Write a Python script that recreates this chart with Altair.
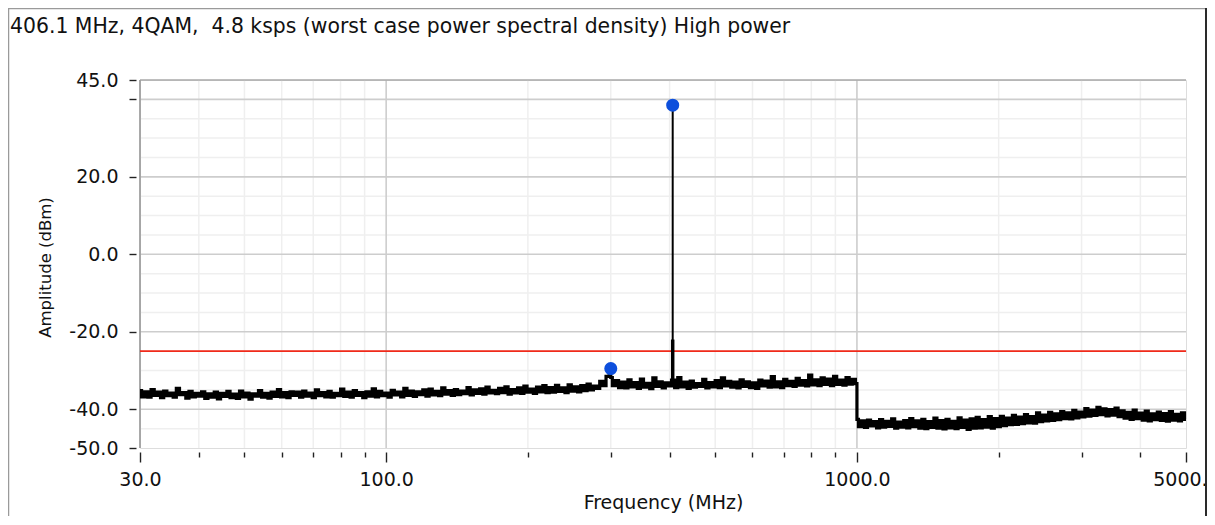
import altair as alt
import numpy as np
import pandas as pd

TITLE = "406.1 MHz, 4QAM,\u00a0 4.8 ksps (worst case power spectral density) High power"
X_TITLE = "Frequency (MHz)"
Y_TITLE = "Amplitude (dBm)"
FONT = "DejaVu Sans"

# ---- measured trace, three sweep segments (start MHz, stop MHz) ----
seg_a_range = [30.0, 300.0]
seg_a_amp = [
    -35.2, -36.8, -35.5, -36.9, -34.9, -36.4, -35.6, -37.0, -35.3, -36.5,
    -35.8, -36.9, -34.6, -36.2, -35.7, -37.1, -35.4, -36.8, -35.9, -36.6,
    -35.5, -37.2, -36.0, -36.9, -35.6, -37.3, -35.9, -36.7, -35.4, -37.0,
    -36.1, -37.2, -35.3, -36.8, -35.8, -37.4, -36.0, -36.6, -35.2, -36.9,
    -35.9, -37.1, -35.6, -36.7, -34.9, -36.8, -35.7, -37.0, -35.5, -36.4,
    -35.6, -36.9, -35.3, -36.6, -35.8, -37.0, -35.0, -36.5, -35.7, -36.8,
    -35.4, -36.9, -35.9, -36.5, -34.8, -36.7, -35.6, -36.9, -35.2, -36.4,
    -35.7, -37.0, -35.5, -36.6, -34.7, -36.8, -35.4, -36.5, -35.8, -36.9,
    -35.1, -36.3, -35.6, -36.8, -34.6, -36.4, -35.3, -36.7, -35.5, -36.2,
    -35.0, -36.6, -34.8, -36.3, -35.4, -36.5, -34.5, -36.1, -35.2, -36.4,
    -34.9, -36.2, -35.3, -36.0, -34.4, -36.3, -35.0, -35.9, -34.7, -36.1,
    -34.3, -35.8, -35.1, -36.0, -34.6, -35.7, -34.2, -36.1, -34.9, -35.8,
    -34.5, -35.9, -34.0, -35.6, -34.8, -35.9, -34.3, -35.5, -33.9, -35.7,
    -34.4, -35.6, -33.8, -35.4, -34.5, -35.7, -33.7, -35.3, -34.2, -35.5,
    -33.9, -35.2, -33.5, -35.0, -34.0, -34.6, -32.8, -33.9, -31.5, -30.6,
]
seg_b_range = [300.0, 1000.0]
seg_b_amp = [
    -31.8, -33.9, -32.6, -34.4, -33.0, -34.5, -32.4, -34.2, -33.1, -34.6,
    -32.2, -34.3, -33.3, -34.7, -31.9, -34.1, -32.9, -34.5, -33.2, -34.0,
    -32.5, -34.4, -31.8, -34.2, -33.0, -34.6, -32.7, -34.3, -33.4, -34.1,
    -32.3, -34.5, -33.1, -34.2, -32.6, -34.4, -31.9, -34.0, -32.8, -34.3,
    -33.0, -34.5, -32.4, -34.1, -32.9, -34.4, -33.2, -34.6, -32.5, -34.0,
    -32.7, -34.3, -31.6, -34.2, -32.9, -34.4, -32.3, -33.9, -32.8, -34.1,
    -32.0, -33.8, -32.6, -34.0, -31.2, -33.7, -32.4, -33.9, -31.9, -33.6,
    -32.2, -33.9, -31.5, -33.6, -32.5, -33.8, -31.8, -33.5, -32.3, -33.4,
]
seg_c_range = [1000.0, 5000.0]
seg_c_amp = [
    -42.6, -44.5, -43.0, -44.7, -42.8, -44.3, -43.2, -44.8, -42.7, -44.6,
    -43.1, -44.4, -42.5, -44.9, -43.3, -44.6, -42.9, -44.8, -42.4, -44.5,
    -43.0, -44.9, -42.6, -45.0, -43.2, -44.7, -42.3, -44.9, -42.9, -45.1,
    -42.6, -44.8, -43.1, -45.0, -42.2, -44.7, -42.8, -45.2, -42.5, -44.9,
    -42.1, -44.8, -42.7, -44.6, -41.9, -44.9, -42.4, -44.5, -41.8, -44.2,
    -42.3, -44.0, -41.6, -43.9, -42.0, -43.7, -41.4, -43.5, -41.9, -43.6,
    -40.9, -43.2, -41.5, -43.0, -40.8, -42.9, -41.2, -42.7, -40.6, -42.4,
    -40.9, -42.5, -40.3, -42.2, -40.7, -42.0, -39.8, -41.8, -40.2, -41.6,
    -39.5, -41.4, -39.9, -41.7, -40.1, -41.5, -39.7, -41.9, -40.4, -42.3,
    -40.8, -42.6, -40.2, -42.4, -41.0, -42.8, -40.5, -43.0, -41.2, -42.7,
    -40.7, -42.9, -41.1, -43.1, -40.6, -42.8, -41.3, -43.0, -40.9, -42.6,
]

# ---- carrier, markers and limit ----
carrier_freq = [406.1]
carrier_peak = [38.5]
carrier_skirt = [-22.0]
carrier_floor = [-34.0]
marker_freq = [300.0, 406.1]
marker_amp = [-29.5, 38.5]
limit_level = [-25.0]

# ---- axes and grid ----
x_major_ticks = [30, 100, 1000, 5000]
x_minor_ticks = [40, 50, 60, 70, 80, 90, 200, 300, 400, 500, 600, 700, 800, 900, 2000, 3000, 4000]
y_ticks = [45, 40, 20, 0, -20, -40, -50]
y_major_grid = [40, 20, 0, -20, -40]
y_minor_grid = [35, 30, 25, 15, 10, 5, -5, -10, -15, -25, -30, -35, -45]
x_major_grid = [100, 1000]
frame_top = [45]
frame_left = [30]

W, H = 1046, 368

rows = []
for (lo, hi), amps in [(seg_a_range, seg_a_amp), (seg_b_range, seg_b_amp), (seg_c_range, seg_c_amp)]:
    freqs = np.geomspace(lo, hi, len(amps))
    for f, a in zip(freqs, amps):
        rows.append({"freq": float(f), "amp": a})
trace = pd.DataFrame(rows)
trace["idx"] = range(len(trace))

xs = alt.Scale(type="log", domain=[30, 5000], nice=False)
ys = alt.Scale(domain=[-50, 45], nice=False, zero=False)

major_test = "indexof([30,100,1000,5000], datum.value) >= 0"
x_axis = alt.Axis(
    values=sorted(x_major_ticks + x_minor_ticks),
    labelExpr=f"{major_test} ? format(datum.value, '.1f') : ''",
    tickSize={"condition": {"test": major_test, "value": 10}, "value": 5},
    tickColor="#222", tickWidth=1.4, domain=False, grid=False, offset=4,
    labelPadding=8, labelFont=FONT, labelFontSize=19, labelColor="#111",
    labelBaseline="top", labelFlush=False, labelOverlap=False,
    title=X_TITLE, titleFont=FONT, titleFontSize=19, titleFontWeight="normal",
    titleColor="#111", titleX=W / 2, titleY=50, titleAlign="center", titleBaseline="middle",
)
y_axis = alt.Axis(
    values=y_ticks,
    labelExpr="datum.value == 40 ? '' : (datum.value < 0 ? '-' : '') + format(abs(datum.value), '.1f')",
    tickSize=7, tickColor="#222", tickWidth=1.4, domain=False, grid=False, offset=4,
    labelPadding=11, labelFont=FONT, labelFontSize=19, labelColor="#111",
    labelFlush=False, labelOverlap=False,
    title=Y_TITLE, titleFont=FONT, titleFontSize=16.5, titleFontWeight="normal",
    titleColor="#111", titleX=-91, titleY=187, titleAngle=-90,
    titleAlign="center", titleBaseline="middle",
)

X = alt.X("freq:Q", scale=xs, axis=x_axis)
Y = alt.Y("amp:Q", scale=ys, axis=y_axis)


def vrules(vals, color, width):
    return alt.Chart(pd.DataFrame({"freq": vals})).mark_rule(color=color, strokeWidth=width).encode(x=X)


def hrules(vals, color, width):
    return alt.Chart(pd.DataFrame({"amp": vals})).mark_rule(color=color, strokeWidth=width).encode(y=Y)


grid_layers = [
    vrules(x_minor_ticks, "#efefef", 1.5),
    hrules(y_minor_grid, "#efefef", 1.5),
    vrules(x_major_grid, "#cdcdcd", 1.6),
    hrules(y_major_grid, "#cdcdcd", 1.6),
    hrules(frame_top, "#a8a8a8", 1.6),
    vrules(frame_left, "#a0a0a0", 1.8),
]

limit = alt.Chart(pd.DataFrame({"amp": limit_level})).mark_rule(color="#f02a1a", strokeWidth=1.6).encode(y=Y)

line = alt.Chart(trace).mark_line(color="#000000", strokeWidth=3.2, interpolate="step").encode(
    x=X, y=Y, order=alt.Order("idx:Q")
)

carrier_df = pd.DataFrame({"freq": carrier_freq, "amp": carrier_floor, "peak": carrier_peak, "skirt": carrier_skirt})
carrier = alt.Chart(carrier_df).mark_rule(color="#000000", strokeWidth=2).encode(x=X, y=Y, y2="peak:Q")
skirt = alt.Chart(carrier_df).mark_rule(color="#000000", strokeWidth=3.5).encode(x=X, y=Y, y2="skirt:Q")

markers = alt.Chart(pd.DataFrame({"freq": marker_freq, "amp": marker_amp})).mark_circle(
    color="#0d4fdc", opacity=1, size=170
).encode(x=X, y=Y)

title = alt.Chart(pd.DataFrame({"label": [TITLE]})).mark_text(
    align="left", baseline="alphabetic", font=FONT, fontSize=20.4, color="#111"
).encode(x=alt.value(-130), y=alt.value(-47), text="label:N")

border = alt.Chart(pd.DataFrame({"k": [0]})).mark_rect(
    fill="transparent", stroke="#9a9a9a", strokeWidth=1.5
).encode(x=alt.value(-131.5), x2=alt.value(W + 20), y=alt.value(-71.5), y2=alt.value(H + 120))
right_edge = alt.Chart(pd.DataFrame({"k": [0]})).mark_rule(color="#2a2a2a", strokeWidth=2).encode(
    x=alt.value(W + 20), y=alt.value(-72), y2=alt.value(H + 120)
)

chart = alt.layer(
    *grid_layers, limit, line, skirt, carrier, markers, title, border, right_edge
).properties(
    width=W, height=H,
    padding={"left": 132, "top": 72, "right": 21, "bottom": 68},
    autosize=alt.AutoSizeParams(type="none"),
).configure_view(stroke=None).configure(background="white")

chart.save("out.html", embed_options={"renderer": "svg", "actions": False})
